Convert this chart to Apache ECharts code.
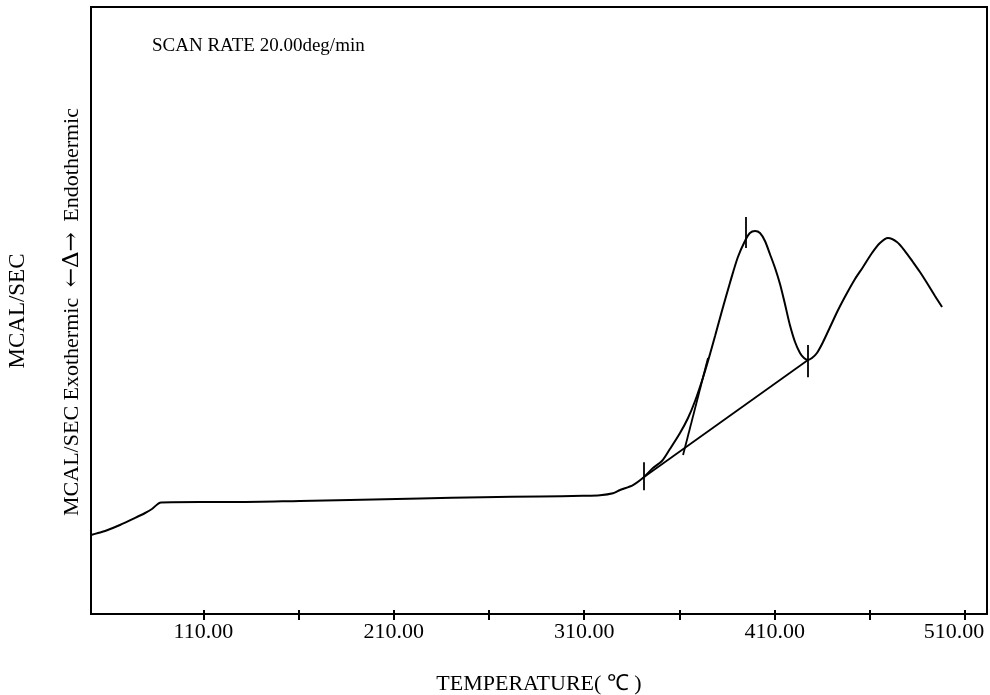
<!DOCTYPE html>
<html>
<head>
<meta charset="utf-8">
<script src="https://cdn.jsdelivr.net/npm/echarts@6/dist/echarts.min.js"></script>
<style>
  html, body { margin: 0; padding: 0; background: #fff; overflow: hidden; }
  #chart { position: absolute; left: 0; top: 0; width: 990px; height: 695px; }
</style>
</head>
<body>
<div id="chart"></div>
<script>
// DSC trace: temperature (°C) against relative heat flow
const temperature = [
  51.0, 54.7, 58.4, 66.2, 74.1, 79.4, 83.0, 87.8, 108.2, 127.7, 160.7, 187.0,
  223.8, 256.8, 286.8, 309.3, 318.3, 325.1, 328.8, 335.6, 341.4, 346.1, 350.8,
  355.0, 360.3, 364.5, 368.2, 371.8, 375.0, 378.7, 382.3, 386.5, 390.7, 394.4,
  397.0, 399.7, 402.3, 404.9, 407.5, 410.2, 412.8, 415.4, 418.0, 420.7, 423.3,
  425.4, 427.5, 429.6, 432.2, 435.4, 439.1, 443.3, 448.0, 452.2, 456.4, 461.1,
  465.3, 469.5, 474.2, 478.4, 482.6, 486.3, 490.0, 494.2, 497.9
];
const heatFlow = [
  13.01, 13.34, 13.67, 14.66, 15.82, 16.64, 17.30, 18.37, 18.45, 18.45, 18.62, 18.78,
  19.03, 19.23, 19.36, 19.47, 19.56, 19.88, 20.43, 21.25, 22.57, 24.05, 25.21,
  27.18, 29.82, 32.29, 35.09, 38.39, 41.68, 45.80, 49.92, 54.53, 58.81, 61.45,
  62.77, 63.10, 62.77, 61.45, 59.31, 57.00, 54.37, 51.07, 47.61, 44.81, 43.00,
  42.17, 41.85, 42.17, 43.00, 44.81, 47.28, 50.08, 52.88, 55.19, 57.17, 59.47,
  61.12, 61.94, 61.28, 59.80, 57.99, 56.34, 54.53, 52.39, 50.58
];

// Peak baseline and onset tangent
const baselineT = [341.4, 427.5];
const baselineV = [22.57, 41.85];
const tangentT = [361.9, 375.0];
const tangentV = [26.19, 42.17];

// Short vertical marks: onset, peak, end
const markT = [341.4, 394.8, 427.5];
const markLow = [20.4, 60.3, 39.0];
const markHigh = [25.0, 65.4, 44.3];

// Axis ticks and labels
const tickValues = [110, 160, 210, 260, 310, 360, 410, 460, 510];
const labelValues = [110, 210, 310, 410, 510];

const FONT = 'Liberation Serif';

const curve = temperature.map((t, i) => [t, heatFlow[i]]);
const segments = [
  { coords: baselineT.map((t, i) => [t, baselineV[i]]) },
  { coords: tangentT.map((t, i) => [t, tangentV[i]]) }
].concat(markT.map((t, i) => ({ coords: [[t, markLow[i]], [t, markHigh[i]]] })));

const chart = echarts.init(document.getElementById('chart'), null,
  { renderer: 'canvas', width: 990, height: 695 });

const xBase = {
  type: 'value', min: 51, max: 521.5, gridIndex: 0, position: 'bottom',
  splitLine: { show: false }
};

// The last label sits tucked inside the right edge of the frame
const lastLabel = labelValues[labelValues.length - 1];

chart.setOption({
  animation: false,
  backgroundColor: '#fff',
  grid: {
    left: 91, right: 3, top: 7, bottom: 81,
    outerBoundsMode: 'none', containLabel: false,
    show: true, borderColor: '#000', borderWidth: 2, backgroundColor: 'transparent'
  },
  title: {
    text: 'SCAN RATE 20.00deg/min',
    left: 147, top: 32,
    textStyle: { fontFamily: FONT, fontSize: 19, fontWeight: 'normal', color: '#000' }
  },
  xAxis: [
    Object.assign({}, xBase, {
      axisLine: { show: true, lineStyle: { color: '#000', width: 2 } },
      axisTick: { show: true, inside: true, length: 4, customValues: tickValues,
                  lineStyle: { color: '#000', width: 2 } },
      axisLabel: { show: true, customValues: labelValues, margin: 7,
                   formatter: v => v === lastLabel ? '{r|' + v.toFixed(2) + '}' : v.toFixed(2),
                   rich: { r: { fontFamily: FONT, fontSize: 22, color: '#000', padding: [0, 22, 0, 0] } },
                   fontFamily: FONT, fontSize: 22, color: '#000' },
      name: 'TEMPERATURE( ℃ )',
      nameLocation: 'middle', nameGap: 59,
      nameTextStyle: { fontFamily: FONT, fontSize: 22, color: '#000' }
    }),
    Object.assign({}, xBase, {
      axisLine: { show: false },
      axisTick: { show: true, inside: false, length: 6, customValues: tickValues,
                  lineStyle: { color: '#000', width: 2 } },
      axisLabel: { show: false }
    })
  ],
  yAxis: {
    type: 'value', min: 0, max: 100,
    axisLine: { show: true, lineStyle: { color: '#000', width: 2 } },
    axisTick: { show: false },
    axisLabel: { show: false },
    splitLine: { show: false }
  },
  graphic: [
    {
      type: 'text', x: 18, y: 311, rotation: Math.PI / 2,
      style: { text: 'MCAL/SEC', fontFamily: FONT, fontSize: 23, fill: '#000',
               align: 'center', verticalAlign: 'middle' }
    },
    {
      type: 'text', x: 72, y: 312, rotation: Math.PI / 2,
      style: { text: 'MCAL/SEC Exothermic {a|←Δ→} Endothermic', fontFamily: FONT, fontSize: 22,
               fill: '#000', align: 'center', verticalAlign: 'middle',
               rich: { a: { fontFamily: 'DejaVu Serif', fontSize: 23, fill: '#000',
                            padding: [0, 5, 0, 5] } } }
    }
  ],
  series: [
    {
      type: 'line', data: curve, xAxisIndex: 0, yAxisIndex: 0,
      smooth: 0.3, symbol: 'none',
      lineStyle: { color: '#000', width: 2 }
    },
    {
      type: 'lines', coordinateSystem: 'cartesian2d', xAxisIndex: 0, yAxisIndex: 0,
      data: segments, symbol: 'none',
      lineStyle: { color: '#000', width: 1.8, opacity: 1 }
    }
  ]
});
</script>
</body>
</html>
